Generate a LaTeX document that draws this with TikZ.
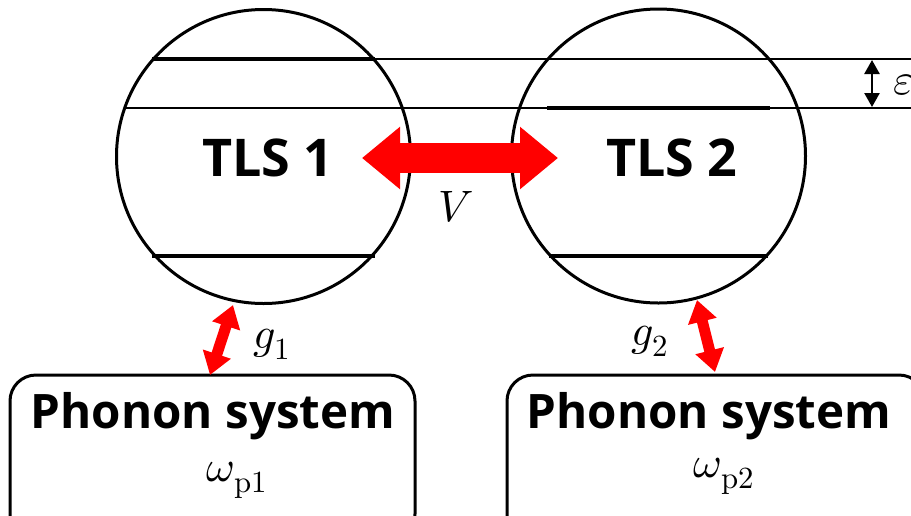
\documentclass[tikz,border=0pt]{standalone}
\usepackage{fontspec}
\setmainfont{Open Sans}
\usepackage{unicode-math}
\setmathfont{Latin Modern Math}
\usetikzlibrary{arrows.meta}
\tikzset{
  tls/.style={circle, draw=black, line width=3pt, minimum size=294pt, inner sep=0pt},
  level/.style={line width=4pt},
  guide/.style={line width=1.2pt},
  bigtitle/.style={font=\fontsize{52}{60}\selectfont\bfseries},
  phtitle/.style={font=\fontsize{47.5}{56}\selectfont\bfseries},
  mathlbl/.style={font=\fontsize{44}{48}\selectfont},
  phbox/.style={draw=black, line width=3pt, rounded corners=26pt},
  couple/.style={red, line width=30pt, {Triangle[length=38pt,width=60pt]}-{Triangle[length=38pt,width=60pt]}},
  smallcouple/.style={red, line width=11pt, {Triangle[length=22pt,width=28pt]}-{Triangle[length=22pt,width=28pt]}},
  eps/.style={black, line width=2.5pt, {Triangle[length=14pt,width=15pt]}-{Triangle[length=14pt,width=15pt]}},
}
\begin{document}
\begin{tikzpicture}[x=1pt,y=-1pt]
\useasboundingbox (0,0) rectangle (911,515);
% circles
\node[tls] (c1) at (263.5,156.5) {};
\node[tls] (c2) at (658.5,156) {};
% thin guide lines
\draw[guide] (375,59) -- (911,59);
\draw[guide] (125,108) -- (911,108);
% levels
\draw[level] (152,59) -- (375,59);
\draw[level] (152,256) -- (375,256);
\draw[level] (547,108) -- (770,108);
\draw[level] (549,256) -- (768,256);
% labels
\node[bigtitle] (t1) at (268,157.5) {TLS 1};
\node[bigtitle] (t2) at (672,157.5) {TLS 2};
% big coupling arrow
\coordinate (a1) at (362,158);
\coordinate (a2) at (558,158);
\draw[couple] (a1) -- (a2);
\node[mathlbl] (V) at (456,207) {$V$};
% epsilon
\coordinate (e1) at (872,60);
\coordinate (e2) at (872,107);
\draw[eps] (e1) -- (e2);
\node[mathlbl, anchor=west, inner sep=0pt] (epsl) at (893,85) {$\varepsilon$};
% phonon boxes
\draw[phbox] (10,375) rectangle (415,540);
\draw[phbox] (507,375) rectangle (925,540);
\node[phtitle] (p1) at (213,416) {Phonon system};
\node[phtitle] (p2) at (709,416) {Phonon system};
\node[mathlbl] (w1) at (237,480) {$\omega_{\symup{p1}}$};
\node[mathlbl] (w2) at (724,476) {$\omega_{\symup{p2}}$};
% small coupling arrows
\coordinate (g1a) at (233,305);
\coordinate (g1b) at (210,375);
\draw[smallcouple] (g1a) -- (g1b);
\coordinate (g2a) at (697,300);
\coordinate (g2b) at (715,372);
\draw[smallcouple] (g2a) -- (g2b);
\node[mathlbl] (g1) at (272,344) {$g_1$};
\node[mathlbl] (g2) at (650,341) {$g_2$};
\end{tikzpicture}
\end{document}
